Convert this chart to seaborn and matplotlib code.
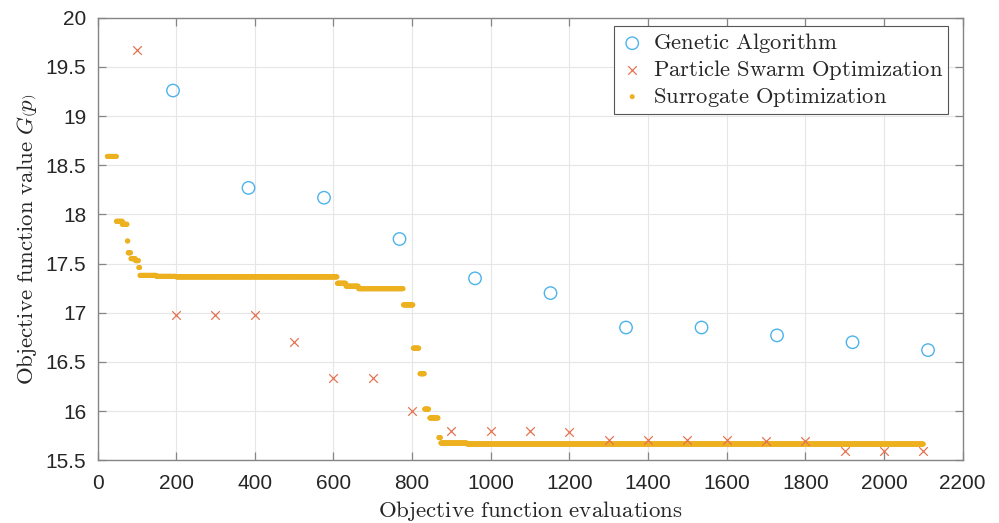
import numpy as np
import pandas as pd

import matplotlib
matplotlib.use('Agg')
import matplotlib.pyplot as plt
import seaborn as sns

# Genetic Algorithm (one point per generation)
ga_evals = [192, 384, 576, 768, 960, 1152, 1344, 1536, 1728, 1920, 2112]
ga_vals = [19.26, 18.27, 18.17, 17.75, 17.35, 17.20, 16.85, 16.85, 16.77, 16.70, 16.62]

# Particle Swarm Optimization (one point per iteration)
pso_evals = [100, 200, 300, 400, 500, 600, 700, 800, 900, 1000, 1100,
             1200, 1300, 1400, 1500, 1600, 1700, 1800, 1900, 2000, 2100]
pso_vals = [19.67, 16.98, 16.98, 16.98, 16.70, 16.34, 16.34, 16.00, 15.80, 15.80, 15.80,
            15.79, 15.71, 15.71, 15.71, 15.71, 15.70, 15.70, 15.59, 15.59, 15.59]

# Surrogate optimization: best value per evaluation, read as runs of constant value
sur_start = [25, 48, 63, 76, 78, 85, 97, 105, 108, 150, 200, 610, 632, 664, 778, 803, 820, 832, 845, 868, 873, 940]
sur_end   = [48, 63, 75, 77, 84, 96, 104, 107, 149, 199, 609, 631, 663, 777, 802, 817, 831, 842, 866, 872, 939, 2100]
sur_vals  = [18.59, 17.93, 17.90, 17.73, 17.61, 17.55, 17.53, 17.46, 17.38, 17.37, 17.365, 17.30,
             17.27, 17.245, 17.08, 16.64, 16.38, 16.02, 15.93, 15.73, 15.675, 15.665]

sur_x, sur_y = [], []
for a, b, v in zip(sur_start, sur_end, sur_vals):
    n = np.arange(a, b + 1)
    sur_x.extend(n)
    sur_y.extend([v] * len(n))
sur = pd.DataFrame({'evals': sur_x, 'value': sur_y})
ga = pd.DataFrame({'evals': ga_evals, 'value': ga_vals})
pso = pd.DataFrame({'evals': pso_evals, 'value': pso_vals})

sns.set_style('ticks')
plt.rcParams['font.family'] = ['Liberation Sans', 'DejaVu Sans']
plt.rcParams['mathtext.fontset'] = 'cm'

fig = plt.figure(figsize=(9.99, 5.23), dpi=100)
ax = fig.add_axes([0.0976, 0.120, 0.866, 0.846])

sns.scatterplot(data=ga, x='evals', y='value', ax=ax, marker='o', s=80,
                facecolor='none', edgecolor='#4DB3EA', linewidth=1.0,
                label=r'$\mathrm{Genetic\ Algorithm}$', zorder=3)
sns.scatterplot(data=pso, x='evals', y='value', ax=ax, marker='x', s=38,
                color='#E37352', linewidth=0.9,
                label=r'$\mathrm{Particle\ Swarm\ Optimization}$', zorder=3)
sns.scatterplot(data=sur, x='evals', y='value', ax=ax, marker='o', s=13,
                color='#EDB120', edgecolor='none', linewidth=0,
                label=r'$\mathrm{Surrogate\ Optimization}$', zorder=2)

ax.set_xlim(0, 2200)
ax.set_ylim(15.5, 20)
ax.set_xticks(np.arange(0, 2201, 200))
ax.set_yticks(np.arange(15.5, 20.01, 0.5))
ax.set_yticklabels(['15.5', '16', '16.5', '17', '17.5', '18', '18.5', '19', '19.5', '20'])

ax.grid(True, color='#e6e6e6', linewidth=0.8)
ax.set_axisbelow(True)
for sp in ax.spines.values():
    sp.set_visible(True)
    sp.set_color('#858585')
    sp.set_linewidth(1.0)
ax.tick_params(direction='in', length=6, width=0.9, color='#858585',
               labelsize=15, labelcolor='#262626', top=True, right=True, pad=8)
ax.tick_params(axis='x', pad=10)

ax.set_xlabel(r'$\mathrm{Objective\ function\ evaluations}$', fontsize=16.5, color='#262626', labelpad=4)
ax.set_ylabel(r'$\mathrm{Objective\ function\ value}\ G\left(p\right)$', fontsize=16.5, color='#262626', labelpad=5)

leg = ax.legend(loc='upper right', bbox_to_anchor=(0.983, 0.981), fontsize=16.3,
                frameon=True, fancybox=False, framealpha=1, edgecolor='#555555',
                borderpad=0.22, labelspacing=0.12, handletextpad=0.3, handlelength=1.2,
                borderaxespad=0)
leg.get_frame().set_linewidth(0.8)

plt.savefig('out.png', dpi=100)
plt.close()
